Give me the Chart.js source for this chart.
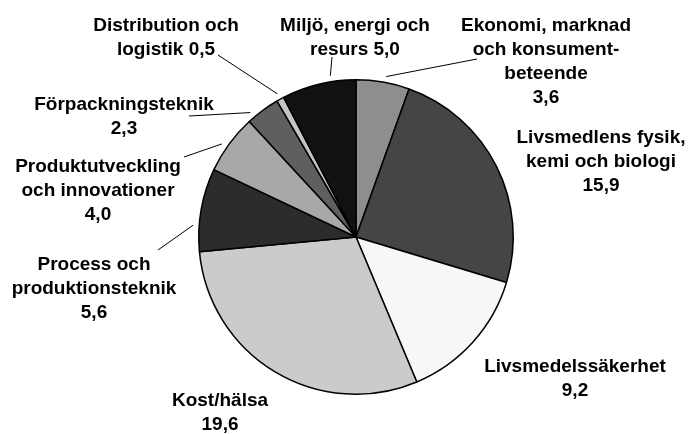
<!DOCTYPE html>
<html lang="sv">

<head>
    <meta charset="UTF-8">
    <title>Forskningsområden</title>
    <style>
        html, body {
            margin: 0;
            padding: 0;
            background: #ffffff;
        }

        #wrap {
            position: relative;
            width: 688px;
            height: 434px;
        }
    </style>
</head>

<body>

    <div id="wrap">
        <canvas id="pieChart" width="688" height="434"></canvas>
    </div>

    <script src="https://cdn.jsdelivr.net/npm/chart.js@4"></script>
    <script>
        // data, clockwise from 12 o'clock
        const categories = [
            ['Ekonomi, marknad', 'och konsument-', 'beteende'],
            ['Livsmedlens fysik,', 'kemi och biologi'],
            ['Livsmedelssäkerhet'],
            ['Kost/hälsa'],
            ['Process och', 'produktionsteknik'],
            ['Produktutveckling', 'och innovationer'],
            ['Förpackningsteknik'],
            ['Distribution och', 'logistik'],
            ['Miljö, energi och', 'resurs']
        ];
        const values = [3.6, 15.9, 9.2, 19.6, 5.6, 4.0, 2.3, 0.5, 5.0];
        const valueLabels = ['3,6', '15,9', '9,2', '19,6', '5,6', '4,0', '2,3', '0,5', '5,0'];

        const sliceColors = ['#8e8e8e', '#454545', '#f7f7f7', '#cbcbcb', '#2c2c2c', '#a8a8a8', '#5f5f5f', '#c4c4c4', '#111111'];

        // label placement: centre x, first baseline, whether value goes on last text line
        const labelLayout = [
            { x: 546, y: 31, inline: false },
            { x: 601, y: 143, inline: false },
            { x: 575, y: 372, inline: false },
            { x: 220, y: 406, inline: false },
            { x: 94, y: 270, inline: false },
            { x: 98, y: 172, inline: false },
            { x: 124, y: 110, inline: false },
            { x: 166, y: 31, inline: true },
            { x: 355, y: 31, inline: true }
        ];

        // leader lines: which slice, where along the arc, outer end
        const leaders = [
            { i: 0, frac: 0.54, x: 477, y: 59 },
            { i: 4, frac: 0.31, x: 158, y: 250 },
            { i: 5, frac: 0.43, x: 184, y: 157 },
            { i: 6, frac: 0.19, x: 189, y: 116 },
            { i: 7, frac: 0.5, x: 218, y: 55 },
            { i: 8, frac: 0.67, x: 332, y: 57 }
        ];

        const lineHeight = 24;

        const labelPlugin = {
            id: 'pieLabels',
            afterDraw(chart) {
                const c = chart.ctx;
                const arcs = chart.getDatasetMeta(0).data;
                c.save();

                c.strokeStyle = '#000';
                c.lineWidth = 1;
                leaders.forEach(l => {
                    const a = arcs[l.i];
                    const ang = a.startAngle + (a.endAngle - a.startAngle) * l.frac;
                    const r = a.outerRadius + 6;
                    c.beginPath();
                    c.moveTo(a.x + Math.cos(ang) * r, a.y + Math.sin(ang) * r);
                    c.lineTo(l.x, l.y);
                    c.stroke();
                });

                c.fillStyle = '#000';
                c.font = 'bold 19px "Liberation Sans", Arial, sans-serif';
                c.textAlign = 'center';
                c.textBaseline = 'alphabetic';
                categories.forEach((lines, i) => {
                    const pos = labelLayout[i];
                    let rows = lines.slice();
                    if (pos.inline) {
                        rows[rows.length - 1] += ' ' + valueLabels[i];
                    } else {
                        rows.push(valueLabels[i]);
                    }
                    rows.forEach((t, k) => {
                        c.fillText(t, pos.x, pos.y + k * lineHeight);
                    });
                });
                c.restore();
            }
        };

        const ctx = document.getElementById('pieChart').getContext('2d');
        const pieChart = new Chart(ctx, {
            type: 'pie',
            data: {
                labels: categories.map(l => l.join(' ')),
                datasets: [{
                    data: values,
                    backgroundColor: sliceColors,
                    borderColor: '#000000',
                    borderWidth: 1.5
                }]
            },
            options: {
                responsive: false,
                animation: false,
                layout: {
                    padding: { left: 198, right: 174, top: 79, bottom: 39 }
                },
                plugins: {
                    legend: { display: false },
                    tooltip: { enabled: false }
                }
            },
            plugins: [labelPlugin]
        });
    </script>
</body>

</html>
